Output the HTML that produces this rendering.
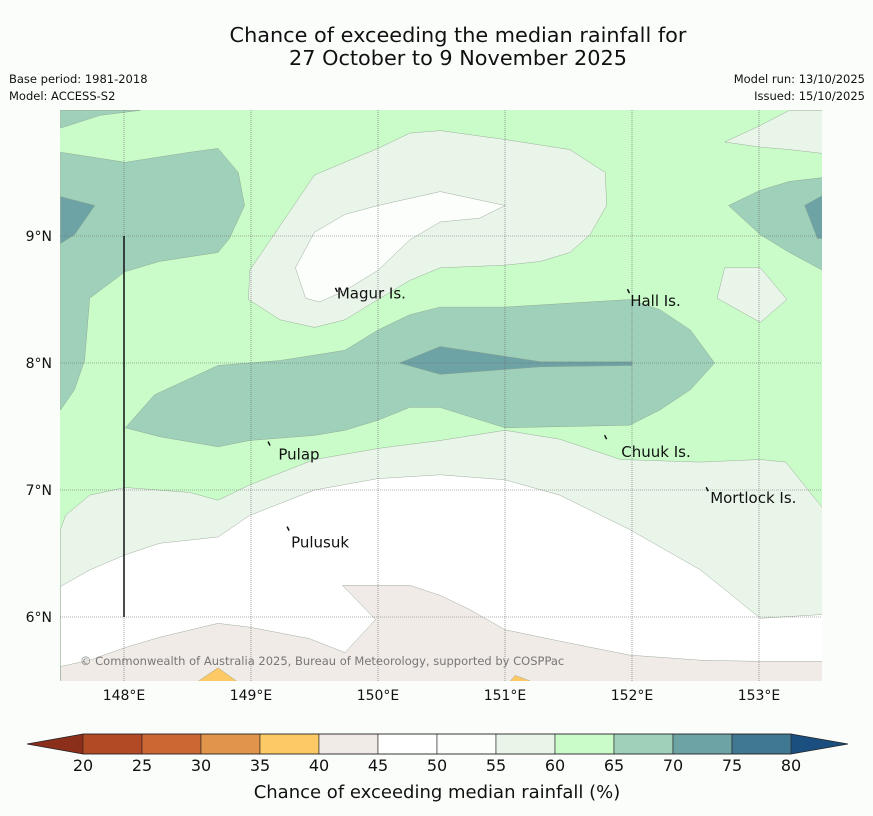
<!DOCTYPE html>
<html><head><meta charset="utf-8">
<style>
body{margin:0;background:#fbfdfb;}
svg{display:block;font-family:"DejaVu Sans","Liberation Sans",sans-serif;}
</style></head>
<body>
<svg id="chart" width="873" height="816" viewBox="0 0 873 816">
<rect width="873" height="816" fill="#fbfdfb"/>
<text x="458" y="42" font-size="20.8" text-anchor="middle" fill="#111">Chance of exceeding the median rainfall for</text>
<text x="458" y="65" font-size="20.8" text-anchor="middle" fill="#111">27 October to 9 November 2025</text>
<text x="9" y="83" font-size="11.5" fill="#111">Base period: 1981-2018</text>
<text x="9" y="100" font-size="11.5" fill="#111">Model: ACCESS-S2</text>
<text x="865" y="83" font-size="11.5" text-anchor="end" fill="#111">Model run: 13/10/2025</text>
<text x="865" y="100" font-size="11.5" text-anchor="end" fill="#111">Issued: 15/10/2025</text>
<defs><clipPath id="mapclip"><rect x="60" y="110" width="762" height="571"/></clipPath></defs>
<g id="map" clip-path="url(#mapclip)"></g>
<g id="grid"></g>
<g id="overlay"></g>
<g id="axes"></g>
<g id="colorbar"></g>
<text x="437" y="798" font-size="18" text-anchor="middle" fill="#111">Chance of exceeding median rainfall (%)</text>
</svg>
<script>
const NS="http://www.w3.org/2000/svg";
const lonTicks=[148,149,150,151,152,153];
const latTicks=[6,7,8,9];
const lonTickLabels=["148°E","149°E","150°E","151°E","152°E","153°E"];
const latTickLabels=["6°N","7°N","8°N","9°N"];
const cbLevels=[20,25,30,35,40,45,50,55,60,65,70,75,80];
const cbColors=["#b34a26","#cc6633","#e0954a","#fdc964","#f0ebe6","#ffffff","#fcfefc","#eaf5ea","#c9fcc9","#9fd1ba","#6ea3a6","#3f7890"];
const cbLow="#8c2f1a", cbHigh="#1a4f80";
const regionValues=[57,47,42,37,37,67,72,67,72,57,52,57,67,72,57];
const regionPolys=[
 [[147.5,6.69],[147.54,6.8],[147.73,6.96],[148.01,7.02],[148.52,6.98],[148.74,6.92],[148.99,7.04],[149.5,7.24],[150.02,7.33],[150.49,7.39],[151.0,7.47],[151.43,7.4],[151.91,7.24],[152.54,7.22],[153.01,7.24],[153.21,7.22],[153.5,6.86],[153.5,5.5],[147.5,5.5]],
 [[147.5,6.24],[147.73,6.37],[148.01,6.49],[148.28,6.58],[148.74,6.63],[148.99,6.8],[149.5,7.0],[150.0,7.09],[150.49,7.12],[151.0,7.08],[151.43,6.96],[151.98,6.69],[152.54,6.37],[153.01,5.99],[153.5,6.02],[153.5,5.5],[147.5,5.5]],
 [[147.5,5.61],[147.73,5.66],[148.01,5.76],[148.28,5.84],[148.74,5.95],[148.99,5.92],[149.46,5.83],[149.74,5.72],[149.98,5.98],[149.72,6.25],[150.25,6.25],[150.49,6.17],[150.72,6.06],[151.0,5.9],[151.43,5.81],[151.98,5.7],[152.54,5.66],[153.01,5.65],[153.5,5.65],[153.5,5.4],[147.5,5.4]],
 [[148.52,5.45],[148.74,5.6],[148.95,5.45]],
 [[151.0,5.45],[151.08,5.54],[151.32,5.45]],
 [[147.5,9.66],[148.01,9.58],[148.52,9.66],[148.74,9.69],[148.9,9.5],[148.95,9.24],[148.83,8.98],[148.74,8.87],[148.28,8.8],[148.01,8.72],[147.73,8.51],[147.69,8.02],[147.61,7.79],[147.5,7.63]],
 [[147.5,9.31],[147.77,9.24],[147.61,9.01],[147.5,8.94]],
 [[148.01,7.49],[148.24,7.75],[148.74,7.98],[149.23,8.02],[149.74,8.1],[150.0,8.26],[150.25,8.38],[150.49,8.44],[151.0,8.44],[151.98,8.5],[152.22,8.42],[152.46,8.26],[152.65,8.0],[152.46,7.79],[152.22,7.63],[151.98,7.51],[151.0,7.49],[150.49,7.65],[150.25,7.65],[150.0,7.55],[149.74,7.47],[149.5,7.43],[148.99,7.39],[148.74,7.34],[148.28,7.42]],
 [[150.17,8.0],[150.49,8.13],[151.28,8.01],[152.0,8.01],[152.0,7.98],[151.28,7.97],[150.49,7.91]],
 [[148.98,8.5],[148.99,8.73],[149.31,9.2],[149.5,9.48],[150.0,9.69],[150.25,9.81],[150.49,9.83],[151.0,9.76],[151.51,9.68],[151.79,9.5],[151.8,9.24],[151.67,9.01],[151.51,8.87],[151.28,8.8],[151.0,8.77],[150.49,8.75],[150.25,8.65],[150.0,8.5],[149.74,8.34],[149.5,8.28],[149.23,8.34]],
 [[149.35,8.75],[149.5,9.03],[149.74,9.17],[150.0,9.24],[150.49,9.35],[151.0,9.24],[150.8,9.14],[150.49,9.11],[150.25,8.97],[150.0,8.73],[149.74,8.57],[149.54,8.48],[149.43,8.51]],
 [[152.73,9.74],[153.01,9.87],[153.24,9.99],[153.5,9.99],[153.5,9.65],[153.24,9.68],[153.01,9.7]],
 [[152.76,9.24],[153.01,9.36],[153.24,9.43],[153.5,9.46],[153.5,8.73],[153.24,8.87],[153.01,9.01]],
 [[153.36,9.24],[153.5,9.32],[153.5,8.98],[153.46,8.98]],
 [[152.73,8.75],[153.01,8.75],[153.22,8.5],[153.01,8.32],[152.67,8.51]]
];
const topLeftPatch=[[147.5,9.85],[147.81,9.95],[148.13,9.99],[147.5,9.99]];
const islands=[["Magur Is.",149.66,8.54,149.68,8.56],["Hall Is.",151.97,8.48,151.98,8.55],["Pulap",149.2,7.27,149.15,7.35],["Chuuk Is.",151.9,7.29,151.8,7.4],["Mortlock Is.",152.6,6.93,152.6,6.99],["Pulusuk",149.3,6.58,149.3,6.68]];

const xS=lon=>124+(lon-148)*127;
const yS=lat=>236-(lat-9)*127;
function colorFor(v){for(let i=0;i<cbLevels.length-1;i++){if(v>=cbLevels[i]&&v<cbLevels[i+1])return cbColors[i];}return v<20?cbLow:cbHigh;}
function el(tag,attrs,parent){const e=document.createElementNS(NS,tag);for(const k in attrs)e.setAttribute(k,attrs[k]);parent.appendChild(e);return e;}
const ptsStr=poly=>poly.map(p=>xS(p[0]).toFixed(1)+","+yS(p[1]).toFixed(1)).join(" ");

const map=document.getElementById("map");
const base=el("rect",{x:60,y:110,width:762,height:571,fill:colorFor(62)},map);


regionPolys.forEach((poly,i)=>{
  const p=el("polygon",{points:ptsStr(poly),fill:colorFor(regionValues[i]),stroke:"#8a9a8a","stroke-width":0.4},map);
  
  
});
const tl=el("polygon",{points:ptsStr(topLeftPatch),fill:colorFor(67),stroke:"#8a9a8a","stroke-width":0.4},map);



const grid=document.getElementById("grid");
lonTicks.forEach(l=>{const g=el("line",{x1:xS(l),x2:xS(l),y1:110,y2:681,stroke:"#666","stroke-width":0.6,"stroke-dasharray":"1,1"},grid);

});
latTicks.forEach(l=>{const g=el("line",{x1:60,x2:822,y1:yS(l),y2:yS(l),stroke:"#666","stroke-width":0.6,"stroke-dasharray":"1,1"},grid);

});

const ov=document.getElementById("overlay");
const vl=el("line",{x1:xS(148),x2:xS(148),y1:yS(9),y2:yS(6),stroke:"#111","stroke-width":1.5},ov);


islands.forEach(d=>{
  const t=el("text",{x:xS(d[1])+2,y:yS(d[2])+4,"font-size":15,fill:"#111"},ov);
  t.textContent=d[0];
  
  
  const m=el("line",{x1:xS(d[3]),y1:yS(d[4]),x2:xS(d[3])-2,y2:yS(d[4])-4,stroke:"#111","stroke-width":1.5},ov);
  
  
});
const cp=el("text",{x:80,y:665,"font-size":11.5,fill:"#777"},ov);
cp.textContent="© Commonwealth of Australia 2025, Bureau of Meteorology, supported by COSPPac";



const axes=document.getElementById("axes");
lonTicks.forEach((l,i)=>{const t=el("text",{x:xS(l),y:700,"font-size":14,"text-anchor":"middle",fill:"#111"},axes);
t.textContent=lonTickLabels[i];

});
latTicks.forEach((l,i)=>{const t=el("text",{x:52,y:yS(l)+5,"font-size":14,"text-anchor":"end",fill:"#111"},axes);
t.textContent=latTickLabels[i];

});

const cb=document.getElementById("colorbar");
const cbX=v=>83+(v-20)*(708/60);
const cy=734,ch=20;
const lt=el("polygon",{points:`27,${cy+ch/2} ${cbX(20)},${cy} ${cbX(20)},${cy+ch}`,fill:cbLow},cb);


const rt=el("polygon",{points:`848,${cy+ch/2} ${cbX(80)},${cy} ${cbX(80)},${cy+ch}`,fill:cbHigh},cb);


cbColors.forEach((c,i)=>{const r=el("rect",{x:cbX(cbLevels[i]),y:cy,width:cbX(cbLevels[i+1])-cbX(cbLevels[i]),height:ch,fill:c,stroke:"#222","stroke-width":0.6},cb);

});
const ol=el("polygon",{points:`27,${cy+ch/2} ${cbX(20)},${cy} ${cbX(80)},${cy} 848,${cy+ch/2} ${cbX(80)},${cy+ch} ${cbX(20)},${cy+ch}`,fill:"none",stroke:"#222","stroke-width":0.8},cb);


cbLevels.forEach(v=>{const t=el("text",{x:cbX(v),y:771,"font-size":16,"text-anchor":"middle",fill:"#111"},cb);
t.textContent=v;

});
</script>
</body></html>
